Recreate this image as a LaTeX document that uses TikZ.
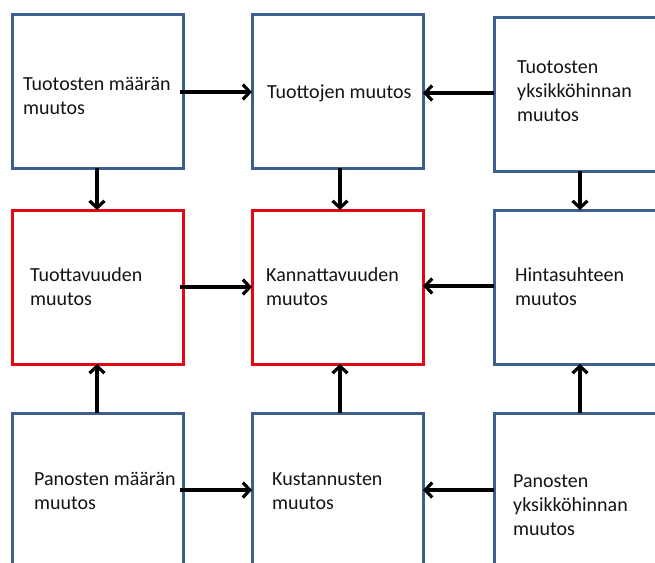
\documentclass[tikz,border=0pt]{standalone}
\usepackage{fontspec}
\setmainfont{Carlito}
\usetikzlibrary{arrows.meta}
\definecolor{boxblue}{HTML}{3D5F8D}
\definecolor{boxred}{HTML}{E30613}
\definecolor{txt}{HTML}{141414}
\tikzset{
  box/.style={draw=boxblue, line width=3pt, rectangle, inner sep=0pt, outer sep=0pt,
    minimum width=171pt, minimum height=154pt, anchor=north west},
  keybox/.style={box, draw=boxred},
  lbl/.style={anchor=north west, inner sep=0pt, align=left, text=txt,
    font=\fontsize{20pt}{24pt}\selectfont},
  arr/.style={line width=3.2pt, -{Straight Barb[length=7pt,width=15pt]}},
}
\newcommand{\firstline}{\rule{0pt}{20pt}}
\begin{document}
\begin{tikzpicture}[x=1pt, y=-1pt]
  \useasboundingbox (0,0) rectangle (655,562);
  \clip (0,0) rectangle (655,562);
  \fill[white] (0,0) rectangle (655,562);

  % boxes
  \node[box] (b1) at (12,14) {};
  \node[box] (b2) at (252,14) {};
  \node[box] (b3) at (494,17) {};
  \node[keybox] (b4) at (12,210) {};
  \node[keybox] (b5) at (252,210) {};
  \node[box] (b6) at (494,210) {};
  \node[box, minimum height=170pt] (b7) at (12,413) {};
  \node[box, minimum height=170pt] (b8) at (252,413) {};
  \node[box, minimum height=170pt] (b9) at (494,413) {};

  % texts
  \node[lbl] (t1) at (23,70) {\firstline Tuotosten määrän\\muutos};
  \node[lbl] (t2) at (267,78) {\firstline Tuottojen muutos};
  \node[lbl] (t3) at (517,53) {\firstline Tuotosten\\yksikköhinnan\\muutos};
  \node[lbl] (t4) at (30,261) {\firstline Tuottavuuden\\muutos};
  \node[lbl] (t5) at (266,261) {\firstline Kannattavuuden\\muutos};
  \node[lbl] (t6) at (515,261) {\firstline Hintasuhteen\\muutos};
  \node[lbl] (t7) at (34,465) {\firstline Panosten määrän\\muutos};
  \node[lbl] (t8) at (272,465) {\firstline Kustannusten\\muutos};
  \node[lbl] (t9) at (513,467) {\firstline Panosten\\yksikköhinnan\\muutos};

  % horizontal connectors
  \draw[arr] ([xshift=-3pt]b1.east |- 0,92) -- (b2.west |- 0,92);
  \draw[arr] (b3.west |- 0,93) -- (b2.east |- 0,93);
  \draw[arr] ([xshift=-3pt]b4.east |- 0,287) -- (b5.west |- 0,287);
  \draw[arr] (b6.west |- 0,286) -- (b5.east |- 0,286);
  \draw[arr] ([xshift=-3pt]b7.east |- 0,490) -- (b8.west |- 0,490);
  \draw[arr] (b9.west |- 0,490) -- (b8.east |- 0,490);

  % vertical connectors
  \draw[arr] (b1.south -| 97,0) -- (b4.north -| 97,0);
  \draw[arr] (b2.south -| 340,0) -- (b5.north -| 340,0);
  \draw[arr] (b3.south -| 580,0) -- (b6.north -| 580,0);
  \draw[arr] (b7.north -| 97,0) -- (b4.south -| 97,0);
  \draw[arr] (b8.north -| 340,0) -- (b5.south -| 340,0);
  \draw[arr] (b9.north -| 580,0) -- (b6.south -| 580,0);
\end{tikzpicture}
\end{document}
